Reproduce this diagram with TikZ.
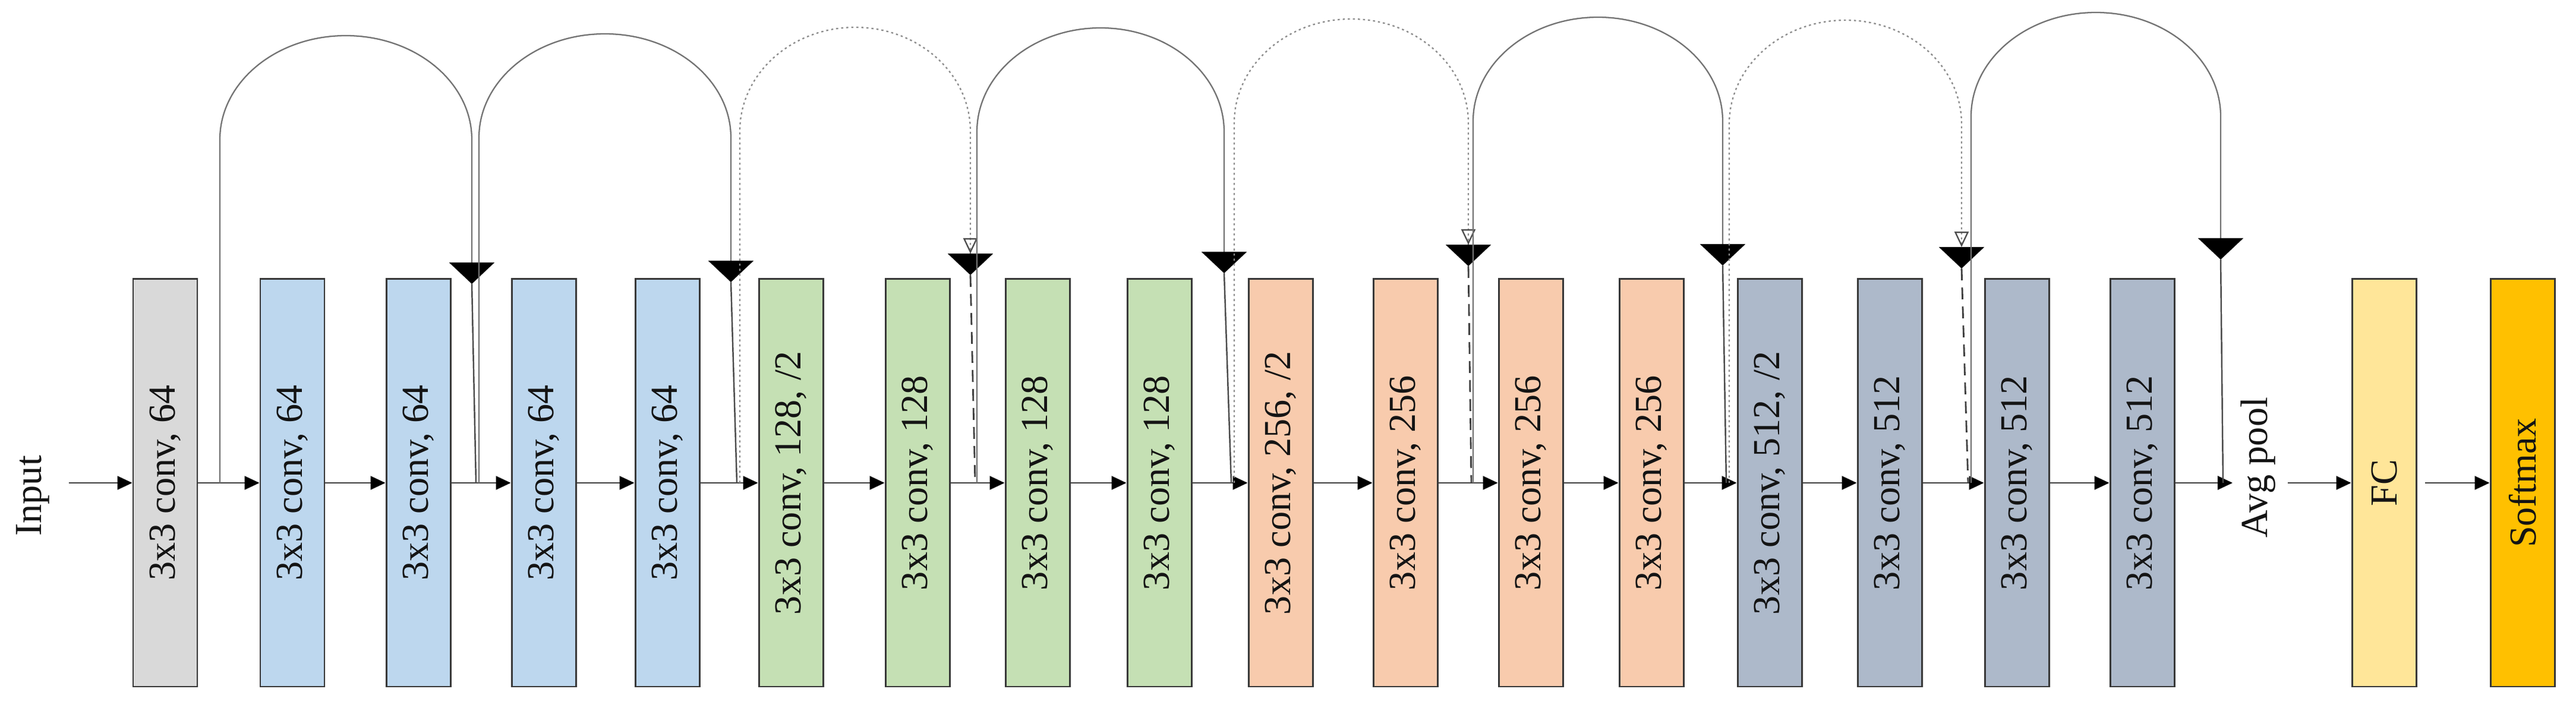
\documentclass[tikz,border=0pt]{standalone}
\usepackage{fontspec}
\setmainfont{Liberation Serif}
\usepackage{graphicx}
\usetikzlibrary{arrows.meta}

\definecolor{convgray}{HTML}{D9D9D9}
\definecolor{convblue}{HTML}{BDD7EE}
\definecolor{convgreen}{HTML}{C5E0B4}
\definecolor{convorange}{HTML}{F8CBAD}
\definecolor{convslate}{HTML}{ADB9CA}
\definecolor{fcyellow}{HTML}{FFE699}
\definecolor{smgold}{HTML}{FFC000}

\begin{document}
\begin{tikzpicture}[
		layer/.style={draw=black!78,line width=.85pt,minimum width=1.08cm,minimum height=6.86cm,inner sep=0pt,text=black!92,font=\fontsize{18.3}{22}\selectfont},
		lbl/.style={inner sep=0pt,text=black!92,font=\fontsize{18.3}{22}\selectfont},
		flow/.style={draw=black!75,line width=.7pt,-{Triangle[length=.25cm,width=.23cm,color=black]}},
		skip/.style={draw=black!55,line width=.65pt,-{Triangle[length=.36cm,width=.76cm,color=black]}},
		skipdot/.style={draw=black!45,line width=.65pt,dash pattern=on .035cm off .05cm,
			-{Triangle[open,length=.26cm,width=.24cm,color=black!70] Triangle[length=.36cm,width=.76cm,color=black]}},
		down/.style={draw=black!70,line width=.7pt},
		downdash/.style={draw=black!75,line width=.8pt,dash pattern=on .2cm off .12cm}]
		\useasboundingbox (0,0) rectangle (43.35,11.92);
		% layers
		\foreach \n/\x/\c/\t in {1/2.78/convgray/{3x3 conv, 64},2/4.92/convblue/{3x3 conv, 64},
			3/7.04/convblue/{3x3 conv, 64},4/9.15/convblue/{3x3 conv, 64},5/11.23/convblue/{3x3 conv, 64},
			6/13.31/convgreen/{3x3 conv, 128, /2},7/15.44/convgreen/{3x3 conv, 128},8/17.46/convgreen/{3x3 conv, 128},
			9/19.51/convgreen/{3x3 conv, 128},10/21.55/convorange/{3x3 conv, 256, /2},11/23.65/convorange/{3x3 conv, 256},
			12/25.76/convorange/{3x3 conv, 256},13/27.79/convorange/{3x3 conv, 256},14/29.78/convslate/{3x3 conv, 512, /2},
			15/31.80/convslate/{3x3 conv, 512},16/33.94/convslate/{3x3 conv, 512},17/36.05/convslate/{3x3 conv, 512}}
			\node[layer,fill=\c] (b\n) at (\x,3.79){\rotatebox{90}{\t}};
		\node[layer,fill=fcyellow] (fc) at (40.12,3.79){\rotatebox{90}{FC}};
		\node[layer,fill=smgold] (sm) at (42.45,3.79){\rotatebox{90}{Softmax}};
		\node[lbl] (input) at (.55,3.57){\rotatebox{90}{Input}};
		\node[lbl] (pool) at (38.00,4.05){\rotatebox{90}{Avg pool}};
		% main line
		\draw[flow,shorten <=.32cm] (input.east |- b1.west) -- (b1.west);
		\foreach \n [count=\m from 2] in {1,...,16}
			\draw[flow] (b\n) -- (b\m);
		\draw[flow,shorten >=.13cm] (b17.east) -- (b17.east -| pool.west);
		\draw[flow,shorten <=.2cm] (pool.east |- fc.west) -- (fc.west);
		\draw[flow,shorten <=.13cm] (fc) -- (sm);
		% shortcuts
		\coordinate (j0) at (3.70,3.79);
		\coordinate (j1) at (8.06,3.79);
		\coordinate (j2) at (12.45,3.79);
		\coordinate (j3) at (16.44,3.79);
		\coordinate (j4) at (20.77,3.79);
		\coordinate (j5) at (24.79,3.79);
		\coordinate (j6) at (29.10,3.79);
		\coordinate (j7) at (33.17,3.79);
		\coordinate (j8) at (37.41,3.79);
		\coordinate (a1) at (7.94,7.14);
		\coordinate (a2) at (12.30,7.17);
		\coordinate (a3) at (16.33,7.29);
		\coordinate (a4) at (20.60,7.32);
		\coordinate (a5) at (24.71,7.44);
		\coordinate (a6) at (28.99,7.45);
		\coordinate (a7) at (33.01,7.40);
		\coordinate (a8) at (37.37,7.55);
		\draw[skip] (j0) -- ++(0,5.78) arc[start angle=180,end angle=0,x radius=2.12,y radius=1.75] -- (a1);
		\draw[skip] (j1) -- ++(0,5.81) arc[start angle=180,end angle=0,x radius=2.12,y radius=1.75] -- (a2);
		\draw[skipdot] (j2) -- ++(0,5.92) arc[start angle=180,end angle=0,x radius=1.94,y radius=1.75] -- (a3);
		\draw[skip] (j3) -- ++(0,5.91) arc[start angle=180,end angle=0,x radius=2.08,y radius=1.75] -- (a4);
		\draw[skipdot] (j4) -- ++(0,6.06) arc[start angle=180,end angle=0,x radius=1.97,y radius=1.75] -- (a5);
		\draw[skip] (j5) -- ++(0,6.09) arc[start angle=180,end angle=0,x radius=2.10,y radius=1.75] -- (a6);
		\draw[skipdot] (j6) -- ++(0,6.04) arc[start angle=180,end angle=0,x radius=1.955,y radius=1.75] -- (a7);
		\draw[skip] (j7) -- ++(0,6.17) arc[start angle=180,end angle=0,x radius=2.10,y radius=1.75] -- (a8);
		\draw[down] (a1) -- ([xshift=-.05cm]j1);
		\draw[down] (a2) -- ([xshift=-.05cm]j2);
		\draw[downdash] (a3) -- ([xshift=-.03cm]j3);
		\draw[down] (a4) -- ([xshift=-.05cm]j4);
		\draw[downdash] (a5) -- ([xshift=-.03cm]j5);
		\draw[down] (a6) -- ([xshift=-.05cm]j6);
		\draw[downdash] (a7) -- ([xshift=-.05cm]j7);
		\draw[down] (a8) -- (j8);
	\end{tikzpicture}
\end{document}
